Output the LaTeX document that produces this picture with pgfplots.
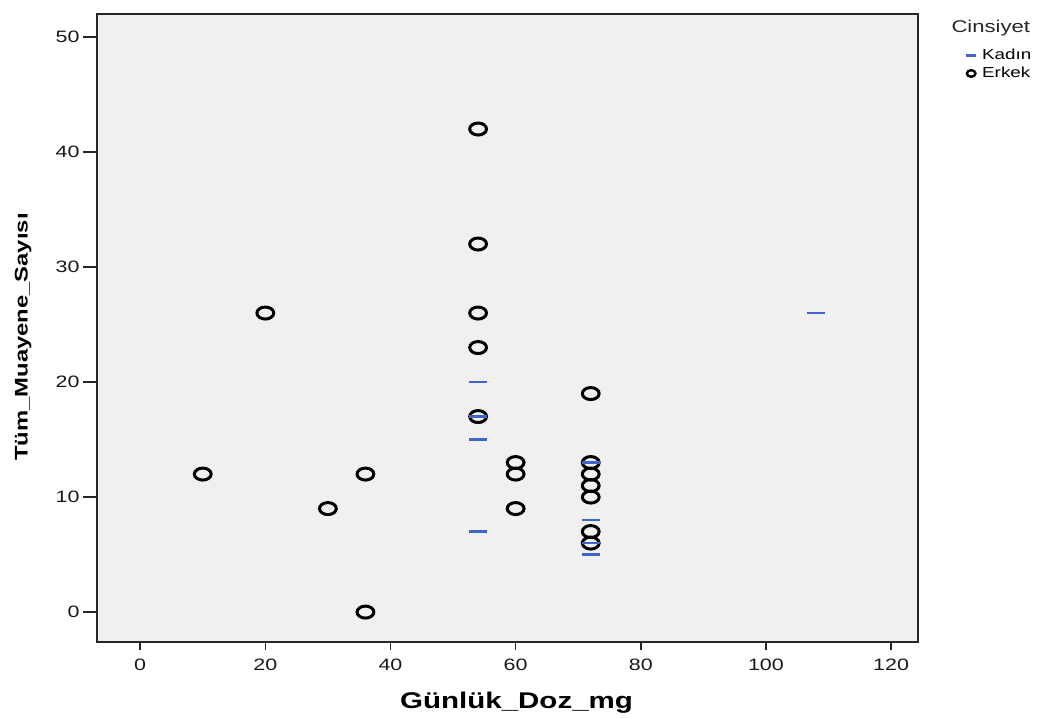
\documentclass[border=0pt]{standalone}
\usepackage{fontspec}
\setmainfont{Liberation Sans}[FakeStretch=1.3]
\usepackage{pgfplots}
\pgfplotsset{compat=1.18}
\definecolor{kadin}{RGB}{66,99,200}
\definecolor{bg}{RGB}{240,240,240}
\begin{document}
\begin{tikzpicture}[x=1pt,y=1pt]
\path[use as bounding box] (0,0) rectangle (1054,718);
\begin{axis}[
  at={(97pt,76pt)}, anchor=south west,
  scale only axis, width=821pt, height=628pt,
  xmin=-6.9, xmax=124.3, ymin=-2.6, ymax=52,
  xtick={0,20,...,120}, ytick={0,10,...,50},
  minor xtick={0,20,...,120},
  axis background/.style={fill=bg},
  axis line style={line width=1.5pt, black!85},
  tick align=outside, major tick length=14pt, minor tick length=8pt,
  tick style={line width=1.5pt, black!85},
  major x tick style={draw=none},
  tick pos=left,
  /pgf/number format/assume math mode=true,
  ticklabel style={font=\fontsize{16.5}{18}\selectfont, text=black!90},
  xticklabel style={anchor=base, yshift=-14pt},
  clip=false,
  xlabel={Günlük\_Doz\_mg}, ylabel={Tüm\_Muayene\_Sayısı},
  xlabel style={font=\bfseries\fontsize{22.7}{26}\selectfont, at={(rel axis cs:0.511,-0.1051)}, anchor=base},
  ylabel style={font=\bfseries\fontsize{18.3}{22}\selectfont, at={(rel axis cs:-0.0845,0.4857)}, anchor=base},
  legend style={draw=none, fill=none, at={(1.0584,0.947)}, anchor=north west, inner sep=0pt, row sep=2pt, column sep=4pt, font=\fontsize{14.5}{16}\selectfont},
  legend cell align=left,
]
\addplot[only marks, mark=o, mark size=6pt, mark options={line width=3pt, xscale=1.4, black}, forget plot] coordinates {
(10,12) (20,26) (30,9) (36,12) (36,0)
(54,42) (54,32) (54,26) (54,23) (54,17)
(60,13) (60,12) (60,9)
(72,19) (72,13) (72,12) (72,11) (72,10) (72,7) (72,6)
};
\addplot[only marks, mark=-, mark size=9pt, mark options={line width=2.5pt, kadin}, forget plot] coordinates {
(54,20) (54,17) (54,15) (54,7)
(72,13) (72,8) (72,6) (72,5)
(108,26)
};
\addlegendimage{only marks, mark=-, mark size=5pt, mark options={line width=2.5pt, kadin}}
\addlegendentry{Kadın}
\addlegendimage{only marks, mark=o, mark size=3.3pt, mark options={line width=2.4pt, xscale=1.3, black}}
\addlegendentry{Erkek}
\node[anchor=base west, font=\fontsize{17}{20}\selectfont, text=black!85] at (rel axis cs:1.0365,0.971) {Cinsiyet};
\end{axis}
\end{tikzpicture}
\end{document}
